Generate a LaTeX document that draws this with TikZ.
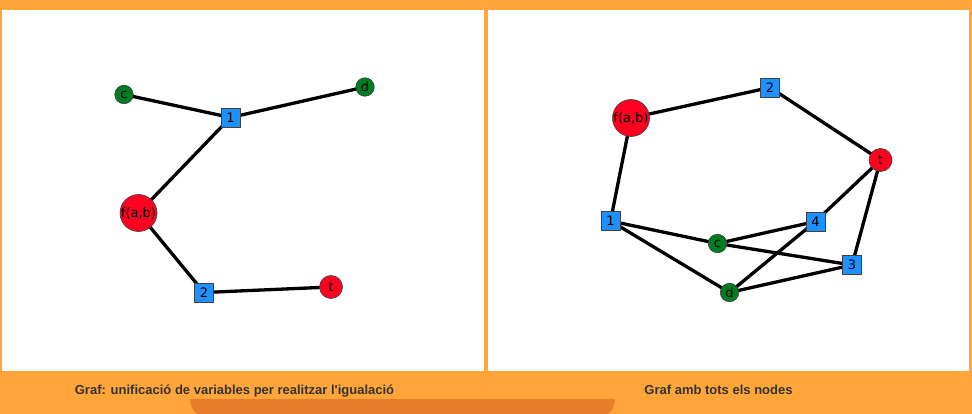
\documentclass[tikz,border=0pt]{standalone}
\usepackage{fontspec}
\newfontfamily\capfont{Liberation Sans}
\newfontfamily\nodefont{DejaVu Sans}
\definecolor{bgorange}{RGB}{255,165,58}
\definecolor{darkorange}{RGB}{232,126,44}
\definecolor{nblue}{RGB}{30,144,255}
\definecolor{ngreen}{RGB}{0,125,32}
\definecolor{nred}{RGB}{255,0,32}
\definecolor{captiongray}{RGB}{51,51,51}
\pgfdeclarelayer{bg}\pgfdeclarelayer{edges}\pgfsetlayers{bg,edges,main}
\begin{document}
\begin{tikzpicture}[x=1pt,y=-1pt,
 gnode/.style={draw=black!75, line width=0.6pt, inner sep=0pt, font=\nodefont\fontsize{13}{13}\selectfont},
 sq/.style={gnode, rectangle, fill=nblue, minimum size=19pt},
 smallc/.style={gnode, circle, fill=ngreen, minimum size=18.5pt},
 midc/.style={gnode, circle, fill=nred, minimum size=23pt},
 bigc/.style={gnode, circle, fill=nred, minimum size=37pt},
 edge/.style={line width=3.3pt, black},
 caption/.style={font=\capfont\bfseries\fontsize{13}{13}\selectfont, text=captiongray, anchor=base, inner sep=0pt}]
\useasboundingbox (0,0) rectangle (972,414);
\begin{pgfonlayer}{bg}
 \fill[bgorange] (0,0) rectangle (972,414);
 \fill[white] (2,10) rectangle (484,371);
 \fill[white] (488,10) rectangle (969,371);
 \begin{scope}
  \clip (190,399) rectangle (615,414);
  \fill[darkorange, rounded corners=20pt] (190,340) rectangle (615,419);
 \end{scope}
\end{pgfonlayer}
% left graph
\node[smallc] (Lc) at (124,94.5) {c};
\node[sq] (L1) at (230.5,117.5) {1};
\node[smallc] (Ld) at (365,87) {d};
\node[bigc] (Lf) at (138.5,213) {f(a,b)};
\node[sq] (L2) at (204,292.5) {2};
\node[midc] (Lt) at (331,287) {t};
% right graph
\node[bigc] (Rf) at (631,118) {f(a,b)};
\node[sq] (R2) at (770,87.5) {2};
\node[midc] (Rt) at (880.5,160) {t};
\node[sq] (R1) at (610.5,221) {1};
\node[sq] (R4) at (815.5,221.5) {4};
\node[smallc] (Rc) at (717.5,243.5) {c};
\node[sq] (R3) at (852,265) {3};
\node[smallc] (Rd) at (729.5,292.5) {d};
\begin{pgfonlayer}{edges}
 \draw[edge] (Lc.center) -- (L1.center) -- (Ld.center);
 \draw[edge] (L1.center) -- (Lf.center) -- (L2.center) -- (Lt.center);
 \draw[edge] (Rf.center) -- (R2.center) -- (Rt.center);
 \draw[edge] (Rf.center) -- (R1.center);
 \draw[edge] (R1.center) -- (Rc.center);
 \draw[edge] (R1.center) -- (Rd.center);
 \draw[edge] (Rc.center) -- (R4.center);
 \draw[edge] (Rc.center) -- (R3.center);
 \draw[edge] (Rd.center) -- (R4.center);
 \draw[edge] (Rd.center) -- (R3.center);
 \draw[edge] (R4.center) -- (Rt.center);
 \draw[edge] (R3.center) -- (Rt.center);
\end{pgfonlayer}
\node[caption] (cap1) at (234.5,394) {Graf: unificació de variables per realitzar l'igualació};
\node[caption] (cap2) at (718.5,394) {Graf amb tots els nodes};
\end{tikzpicture}
\end{document}
